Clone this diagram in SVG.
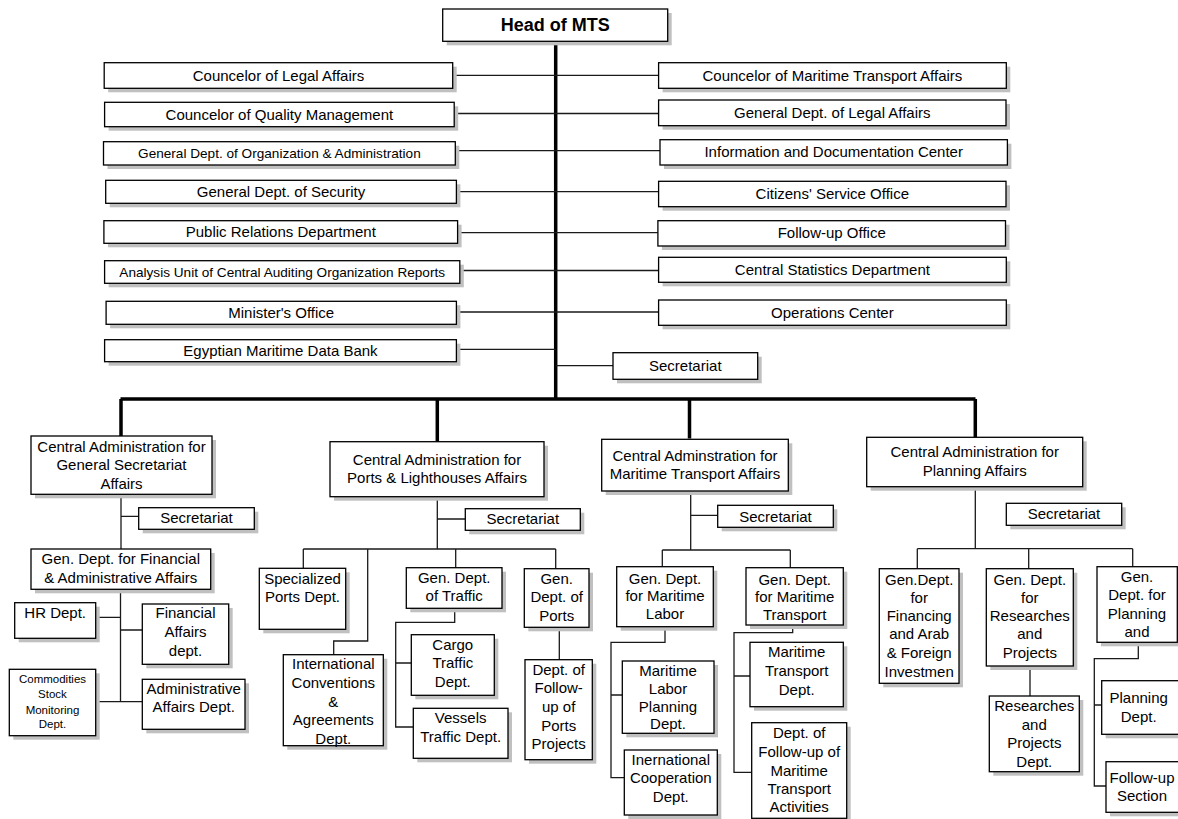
<svg xmlns="http://www.w3.org/2000/svg" width="1178" height="819" viewBox="0 0 1178 819">
  <style>
    .sh { fill: #c0c0c0; }
    .bx { fill: #ffffff; stroke: #000000; stroke-width: 1.3; }
    .t { font-family: "Liberation Sans", Arial, sans-serif; font-size: 15px; fill: #000000; text-anchor: middle; }
    .s { font-size: 13.6px; }
    .xs { font-size: 11.5px; }
    .hd { font-size: 18px; font-weight: bold; }
    .ln { fill: none; stroke: #1a1a1a; stroke-width: 1.3; }
    .tk { fill: none; stroke: #000000; stroke-width: 3.5; }
  </style>

  <rect x="0" y="0" width="1178" height="819" fill="#ffffff"/>

  <!-- connectors -->
  <g id="connectors">
    <!-- main trunk and distribution bar -->
    <path class="tk" d="M555.7 41.3 V400.5 M120.5 399 H975.5 M121 399 V436 M437.3 399 V441.7 M689.5 399 V438.5 M975.3 399 V437.3"/>
    <!-- staff units beside the trunk -->
    <path class="ln" d="M452.7 75.3 H658.6 M454.2 113.5 H658.6 M455.3 150.7 H660 M456.4 191.7 H658.6 M457.6 232.7 H657.9 M459.8 270.5 H658.6 M456.4 312 H658.6 M456.4 349.3 H555.7 M555.7 365.7 H613"/>
    <!-- general secretariat branch -->
    <path class="ln" d="M121 494.3 V549 M121 516.3 H138.7 M120.5 589.3 V701.7 M95.7 617.3 H120.5 M120.5 630 H142.3 M95.7 701.7 H142.3"/>
    <!-- ports and lighthouses branch -->
    <path class="ln" d="M437.3 496.7 V549 M437.3 519 H465.3 M303.3 549 H555.7 M303.3 549 V568.3 M367.7 549 V641 H333.7 V654.7 M455.7 549 V567.7 M555.7 549 V568.7 M454.7 608.3 V622.3 H395.7 V727 H413.3 M395.7 663 H411.3 M559.3 627.3 V659.7"/>
    <!-- maritime transport branch -->
    <path class="ln" d="M690.7 491 V550 M690.7 515.3 H717.7 M662.3 550 H790.3 M662.3 550 V566.7 M790.3 550 V567.7 M665 626.7 V642.3 H611 V777.7 H624.3 M611 695 H622.3 M792.7 625 V632.7 H734 V772.3 H751.7 M734 676 H750"/>
    <!-- planning branch -->
    <path class="ln" d="M975.3 486.7 V548.7 M917.3 548.7 H1132.7 M917.3 548.7 V568.7 M1028.7 548.7 V568.7 M1132.7 548.7 V566.7 M1030 666 V696 M1138.3 642.3 V658.7 H1094.3 V786 H1106 M1094.3 705 H1101.7"/>
  </g>

  <!-- head -->
  <g id="head">
    <rect class="sh" x="446.7" y="13" width="225" height="32.3"/>
    <rect class="bx" x="442.7" y="9" width="225" height="32.3"/>
    <text class="t hd" x="555.2" y="31.3">Head of MTS</text>
  </g>

  <!-- staff units, left column -->
  <g id="councelor-legal">
    <rect class="sh" x="108.2" y="66.7" width="348.5" height="25.6"/>
    <rect class="bx" x="104.2" y="62.7" width="348.5" height="25.6"/>
    <text class="t" x="278.5" y="80.5">Councelor of Legal Affairs</text>
  </g>
  <g id="councelor-quality">
    <rect class="sh" x="108.6" y="106.3" width="349.6" height="24.4"/>
    <rect class="bx" x="104.6" y="102.3" width="349.6" height="24.4"/>
    <text class="t" x="279.4" y="119.5">Councelor of Quality Management</text>
  </g>
  <g id="gd-organization">
    <rect class="sh" x="107.5" y="145.7" width="351.8" height="23.3"/>
    <rect class="bx" x="103.5" y="141.7" width="351.8" height="23.3"/>
    <text class="t s" x="279.4" y="158">General Dept. of Organization &amp; Administration</text>
  </g>
  <g id="gd-security">
    <rect class="sh" x="109.7" y="184.3" width="350.7" height="23"/>
    <rect class="bx" x="105.7" y="180.3" width="350.7" height="23"/>
    <text class="t" x="281" y="196.8">General Dept. of Security</text>
  </g>
  <g id="public-relations">
    <rect class="sh" x="107.9" y="224.7" width="353.7" height="22.6"/>
    <rect class="bx" x="103.9" y="220.7" width="353.7" height="22.6"/>
    <text class="t" x="280.8" y="237">Public Relations Department</text>
  </g>
  <g id="analysis-unit">
    <rect class="sh" x="108.6" y="264.7" width="355.2" height="22.6"/>
    <rect class="bx" x="104.6" y="260.7" width="355.2" height="22.6"/>
    <text class="t s" x="282.2" y="276.7">Analysis Unit of Central Auditing Organization Reports</text>
  </g>
  <g id="ministers-office">
    <rect class="sh" x="110.1" y="305.3" width="350.3" height="23"/>
    <rect class="bx" x="106.1" y="301.3" width="350.3" height="23"/>
    <text class="t" x="281.2" y="317.8">Minister's Office</text>
  </g>
  <g id="data-bank">
    <rect class="sh" x="108.6" y="343.7" width="351.8" height="22"/>
    <rect class="bx" x="104.6" y="339.7" width="351.8" height="22"/>
    <text class="t" x="280.5" y="355.7">Egyptian Maritime Data Bank</text>
  </g>

  <!-- staff units, right column -->
  <g id="councelor-maritime">
    <rect class="sh" x="662.6" y="66.7" width="347.7" height="25.6"/>
    <rect class="bx" x="658.6" y="62.7" width="347.7" height="25.6"/>
    <text class="t" x="832.4" y="80.5">Councelor of Maritime Transport Affairs</text>
  </g>
  <g id="gd-legal">
    <rect class="sh" x="662.6" y="104" width="347.4" height="25.7"/>
    <rect class="bx" x="658.6" y="100" width="347.4" height="25.7"/>
    <text class="t" x="832.3" y="117.8">General Dept. of Legal Affairs</text>
  </g>
  <g id="info-doc-center">
    <rect class="sh" x="664" y="143.7" width="347.4" height="25.3"/>
    <rect class="bx" x="660" y="139.7" width="347.4" height="25.3"/>
    <text class="t" x="833.7" y="157.3">Information and Documentation Center</text>
  </g>
  <g id="citizens-service">
    <rect class="sh" x="662.6" y="185.3" width="347.4" height="25.4"/>
    <rect class="bx" x="658.6" y="181.3" width="347.4" height="25.4"/>
    <text class="t" x="832.3" y="198.6">Citizens' Service Office</text>
  </g>
  <g id="follow-up-office">
    <rect class="sh" x="661.9" y="224.7" width="347.6" height="25.3"/>
    <rect class="bx" x="657.9" y="220.7" width="347.6" height="25.3"/>
    <text class="t" x="831.7" y="237.7">Follow-up Office</text>
  </g>
  <g id="central-statistics">
    <rect class="sh" x="662.6" y="261.3" width="347.7" height="25"/>
    <rect class="bx" x="658.6" y="257.3" width="347.7" height="25"/>
    <text class="t" x="832.4" y="275">Central Statistics Department</text>
  </g>
  <g id="operations-center">
    <rect class="sh" x="662.6" y="304" width="347.7" height="25.3"/>
    <rect class="bx" x="658.6" y="300" width="347.7" height="25.3"/>
    <text class="t" x="832.4" y="317.5">Operations Center</text>
  </g>
  <g id="secretariat-head">
    <rect class="sh" x="617" y="356.7" width="144.7" height="26.6"/>
    <rect class="bx" x="613" y="352.7" width="144.7" height="26.6"/>
    <text class="t" x="685.3" y="371">Secretariat</text>
  </g>

  <!-- central administration for general secretariat affairs -->
  <g id="ca-general-secretariat">
    <rect class="sh" x="35" y="440" width="181" height="58.3"/>
    <rect class="bx" x="31" y="436" width="181" height="58.3"/>
    <text class="t"><tspan x="121.5" y="451.7">Central Administration for</tspan><tspan x="121.5" y="470">General Secretariat</tspan><tspan x="121.5" y="489">Affairs</tspan></text>
  </g>
  <g id="secretariat-gs">
    <rect class="sh" x="142.7" y="511.7" width="115.6" height="21.6"/>
    <rect class="bx" x="138.7" y="507.7" width="115.6" height="21.6"/>
    <text class="t" x="196.5" y="523.3">Secretariat</text>
  </g>
  <g id="gd-financial-admin">
    <rect class="sh" x="35" y="553" width="179.7" height="40.3"/>
    <rect class="bx" x="31" y="549" width="179.7" height="40.3"/>
    <text class="t"><tspan x="120.8" y="564.3">Gen. Dept. for Financial</tspan><tspan x="120.8" y="582.7">&amp; Administrative Affairs</tspan></text>
  </g>
  <g id="hr-dept">
    <rect class="sh" x="18.7" y="606.7" width="81" height="35.6"/>
    <rect class="bx" x="14.7" y="602.7" width="81" height="35.6"/>
    <text class="t" x="55.2" y="618.3">HR Dept.</text>
  </g>
  <g id="financial-affairs">
    <rect class="sh" x="146.3" y="608" width="86.4" height="60.3"/>
    <rect class="bx" x="142.3" y="604" width="86.4" height="60.3"/>
    <text class="t"><tspan x="185.5" y="618.3">Financial</tspan><tspan x="185.5" y="636.7">Affairs</tspan><tspan x="185.5" y="655.7">dept.</tspan></text>
  </g>
  <g id="commodities-stock">
    <rect class="sh" x="13.3" y="673.3" width="86.4" height="66.4"/>
    <rect class="bx" x="9.3" y="669.3" width="86.4" height="66.4"/>
    <text class="t xs"><tspan x="52.5" y="682.7">Commodities</tspan><tspan x="52.5" y="698">Stock</tspan><tspan x="52.5" y="714">Monitoring</tspan><tspan x="52.5" y="728.3">Dept.</tspan></text>
  </g>
  <g id="administrative-affairs">
    <rect class="sh" x="146.3" y="683.3" width="102.7" height="50"/>
    <rect class="bx" x="142.3" y="679.3" width="102.7" height="50"/>
    <text class="t"><tspan x="193.7" y="693.7">Administrative</tspan><tspan x="193.7" y="711.7">Affairs Dept.</tspan></text>
  </g>

  <!-- central administration for ports & lighthouses affairs -->
  <g id="ca-ports">
    <rect class="sh" x="334" y="445.7" width="214" height="55"/>
    <rect class="bx" x="330" y="441.7" width="214" height="55"/>
    <text class="t"><tspan x="437" y="465.3">Central Administration for</tspan><tspan x="437" y="483">Ports &amp; Lighthouses Affairs</tspan></text>
  </g>
  <g id="secretariat-ports">
    <rect class="sh" x="469.3" y="512.7" width="115" height="21.6"/>
    <rect class="bx" x="465.3" y="508.7" width="115" height="21.6"/>
    <text class="t" x="522.8" y="524">Secretariat</text>
  </g>
  <g id="specialized-ports">
    <rect class="sh" x="263.3" y="572.3" width="86.4" height="61"/>
    <rect class="bx" x="259.3" y="568.3" width="86.4" height="61"/>
    <text class="t"><tspan x="302.5" y="584">Specialized</tspan><tspan x="302.5" y="602">Ports Dept.</tspan></text>
  </g>
  <g id="intl-conventions">
    <rect class="sh" x="287.3" y="658.7" width="100" height="91"/>
    <rect class="bx" x="283.3" y="654.7" width="100" height="91"/>
    <text class="t"><tspan x="333.3" y="669">International</tspan><tspan x="333.3" y="688">Conventions</tspan><tspan x="333.3" y="706.7">&amp;</tspan><tspan x="333.3" y="725">Agreements</tspan><tspan x="333.3" y="744">Dept.</tspan></text>
  </g>
  <g id="gd-traffic">
    <rect class="sh" x="410.3" y="571.7" width="95.7" height="40.6"/>
    <rect class="bx" x="406.3" y="567.7" width="95.7" height="40.6"/>
    <text class="t"><tspan x="454.2" y="583.3">Gen. Dept.</tspan><tspan x="454.2" y="601">of Traffic</tspan></text>
  </g>
  <g id="cargo-traffic">
    <rect class="sh" x="415.3" y="638.7" width="83" height="60.6"/>
    <rect class="bx" x="411.3" y="634.7" width="83" height="60.6"/>
    <text class="t"><tspan x="452.8" y="650">Cargo</tspan><tspan x="452.8" y="668.3">Traffic</tspan><tspan x="452.8" y="687.3">Dept.</tspan></text>
  </g>
  <g id="vessels-traffic">
    <rect class="sh" x="417.3" y="712.3" width="94.7" height="50"/>
    <rect class="bx" x="413.3" y="708.3" width="94.7" height="50"/>
    <text class="t"><tspan x="460.7" y="723.3">Vessels</tspan><tspan x="460.7" y="742">Traffic Dept.</tspan></text>
  </g>
  <g id="gd-ports">
    <rect class="sh" x="528.3" y="572.7" width="64.7" height="58.6"/>
    <rect class="bx" x="524.3" y="568.7" width="64.7" height="58.6"/>
    <text class="t"><tspan x="556.7" y="584.3">Gen.</tspan><tspan x="556.7" y="602.3">Dept. of</tspan><tspan x="556.7" y="621">Ports</tspan></text>
  </g>
  <g id="ports-projects">
    <rect class="sh" x="529" y="663.7" width="67.3" height="100"/>
    <rect class="bx" x="525" y="659.7" width="67.3" height="100"/>
    <text class="t"><tspan x="558.7" y="675">Dept. of</tspan><tspan x="558.7" y="693.3">Follow-</tspan><tspan x="558.7" y="712">up of</tspan><tspan x="558.7" y="731">Ports</tspan><tspan x="558.7" y="749.3">Projects</tspan></text>
  </g>

  <!-- central administration for maritime transport affairs -->
  <g id="ca-maritime">
    <rect class="sh" x="605.7" y="443.3" width="186.6" height="51.7"/>
    <rect class="bx" x="601.7" y="439.3" width="186.6" height="51.7"/>
    <text class="t"><tspan x="695" y="461">Central Adminstration for</tspan><tspan x="695" y="479">Maritime Transport Affairs</tspan></text>
  </g>
  <g id="secretariat-maritime">
    <rect class="sh" x="721.7" y="509.3" width="115.6" height="22"/>
    <rect class="bx" x="717.7" y="505.3" width="115.6" height="22"/>
    <text class="t" x="775.5" y="521.7">Secretariat</text>
  </g>
  <g id="gd-maritime-labor">
    <rect class="sh" x="620.7" y="570.7" width="96.6" height="60"/>
    <rect class="bx" x="616.7" y="566.7" width="96.6" height="60"/>
    <text class="t"><tspan x="665" y="584">Gen. Dept.</tspan><tspan x="665" y="601">for Maritime</tspan><tspan x="665" y="619">Labor</tspan></text>
  </g>
  <g id="labor-planning">
    <rect class="sh" x="626.3" y="665" width="91.7" height="72.3"/>
    <rect class="bx" x="622.3" y="661" width="91.7" height="72.3"/>
    <text class="t"><tspan x="668" y="676">Maritime</tspan><tspan x="668" y="694">Labor</tspan><tspan x="668" y="712.3">Planning</tspan><tspan x="668" y="728.8">Dept.</tspan></text>
  </g>
  <g id="intl-cooperation">
    <rect class="sh" x="628.3" y="754" width="93" height="65"/>
    <rect class="bx" x="624.3" y="750" width="93" height="65"/>
    <text class="t"><tspan x="670.8" y="765">Inernational</tspan><tspan x="670.8" y="783.3">Cooperation</tspan><tspan x="670.8" y="802.3">Dept.</tspan></text>
  </g>
  <g id="gd-maritime-transport">
    <rect class="sh" x="750" y="571.7" width="97.3" height="57.3"/>
    <rect class="bx" x="746" y="567.7" width="97.3" height="57.3"/>
    <text class="t"><tspan x="794.7" y="585.2">Gen. Dept.</tspan><tspan x="794.7" y="601.5">for Maritime</tspan><tspan x="794.7" y="619.8">Transport</tspan></text>
  </g>
  <g id="maritime-transport-dept">
    <rect class="sh" x="754" y="646.3" width="93.3" height="64.4"/>
    <rect class="bx" x="750" y="642.3" width="93.3" height="64.4"/>
    <text class="t"><tspan x="796.7" y="657.3">Maritime</tspan><tspan x="796.7" y="676">Transport</tspan><tspan x="796.7" y="694.7">Dept.</tspan></text>
  </g>
  <g id="transport-activities">
    <rect class="sh" x="755.7" y="726.7" width="95" height="95.6"/>
    <rect class="bx" x="751.7" y="722.7" width="95" height="95.6"/>
    <text class="t"><tspan x="799.2" y="737.7">Dept. of</tspan><tspan x="799.2" y="756.7">Follow-up of</tspan><tspan x="799.2" y="775.7">Maritime</tspan><tspan x="799.2" y="794">Transport</tspan><tspan x="799.2" y="811.7">Activities</tspan></text>
  </g>

  <!-- central administration for planning affairs -->
  <g id="ca-planning">
    <rect class="sh" x="870.7" y="441.3" width="216" height="49.4"/>
    <rect class="bx" x="866.7" y="437.3" width="216" height="49.4"/>
    <text class="t"><tspan x="974.7" y="456.7">Central Administration for</tspan><tspan x="974.7" y="475.7">Planning Affairs</tspan></text>
  </g>
  <g id="secretariat-planning">
    <rect class="sh" x="1010.3" y="507.3" width="115.4" height="22"/>
    <rect class="bx" x="1006.3" y="503.3" width="115.4" height="22"/>
    <text class="t" x="1064" y="519">Secretariat</text>
  </g>
  <g id="gd-financing">
    <rect class="sh" x="883.3" y="572.7" width="79.7" height="114.6"/>
    <rect class="bx" x="879.3" y="568.7" width="79.7" height="114.6"/>
    <text class="t"><tspan x="919.2" y="585">Gen.Dept.</tspan><tspan x="919.2" y="602.5">for</tspan><tspan x="919.2" y="621">Financing</tspan><tspan x="919.2" y="639.3">and Arab</tspan><tspan x="919.2" y="658.3">&amp; Foreign</tspan><tspan x="919.2" y="676.7">Investmen</tspan></text>
  </g>
  <g id="gd-researches">
    <rect class="sh" x="990.3" y="572.7" width="87" height="97.3"/>
    <rect class="bx" x="986.3" y="568.7" width="87" height="97.3"/>
    <text class="t"><tspan x="1029.8" y="585">Gen. Dept.</tspan><tspan x="1029.8" y="602.5">for</tspan><tspan x="1029.8" y="621">Researches</tspan><tspan x="1029.8" y="639.3">and</tspan><tspan x="1029.8" y="658.3">Projects</tspan></text>
  </g>
  <g id="researches-projects">
    <rect class="sh" x="993.3" y="700" width="90" height="75.7"/>
    <rect class="bx" x="989.3" y="696" width="90" height="75.7"/>
    <text class="t"><tspan x="1034.3" y="711">Researches</tspan><tspan x="1034.3" y="730">and</tspan><tspan x="1034.3" y="748.3">Projects</tspan><tspan x="1034.3" y="767">Dept.</tspan></text>
  </g>
  <g id="gd-planning">
    <rect class="sh" x="1101" y="570.7" width="80.3" height="75.6"/>
    <rect class="bx" x="1097" y="566.7" width="80.3" height="75.6"/>
    <text class="t"><tspan x="1137" y="581.7">Gen.</tspan><tspan x="1137" y="600">Dept. for</tspan><tspan x="1137" y="618.7">Planning</tspan><tspan x="1137" y="637">and</tspan></text>
  </g>
  <g id="planning-dept">
    <rect class="sh" x="1105.7" y="684.7" width="80" height="53.6"/>
    <rect class="bx" x="1101.7" y="680.7" width="80" height="53.6"/>
    <text class="t"><tspan x="1138.7" y="702.7">Planning</tspan><tspan x="1138.7" y="721.7">Dept.</tspan></text>
  </g>
  <g id="follow-up-section">
    <rect class="sh" x="1110" y="765.7" width="80" height="50.6"/>
    <rect class="bx" x="1106" y="761.7" width="80" height="50.6"/>
    <text class="t"><tspan x="1142" y="783.3">Follow-up</tspan><tspan x="1142" y="801.3">Section</tspan></text>
  </g>
</svg>
